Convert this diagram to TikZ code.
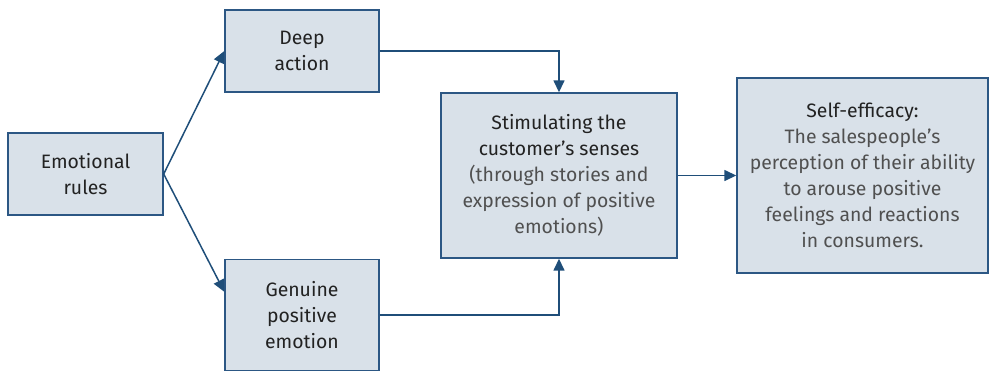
\documentclass[tikz,border=0pt]{standalone}
\usepackage{fontspec}
\setmainfont{Fira Sans}
\usetikzlibrary{arrows.meta,calc}
\definecolor{boxfill}{HTML}{D9E1E9}
\definecolor{boxdraw}{HTML}{2C5784}
\definecolor{arrowc}{HTML}{1F4E79}
\definecolor{maintext}{HTML}{222222}
\definecolor{subtext}{HTML}{505050}
\begin{document}
\begin{tikzpicture}[x=1pt,y=-1pt,
  box/.style={draw=boxdraw,fill=boxfill,line width=1.4pt,inner sep=0pt,align=center,
    text=maintext,font=\fontsize{19.4}{26}\selectfont},
  conn/.style={draw=arrowc,line width=1.5pt,-{Triangle[length=12pt,width=11pt]}}]
\useasboundingbox (0,0) rectangle (989,373);
\node[box,minimum width=155pt,minimum height=82pt] (rules) at (85.5,174) {Emotional\\rules};
\node[box,minimum width=154pt,minimum height=82pt] (deep) at (302,51) {Deep\\action};
\node[box,minimum width=154pt,minimum height=111pt] (genuine) at (302,315) {Genuine\\positive\\emotion};
\node[box,minimum width=236pt,minimum height=165pt] (stim) at (559,175.5) {Stimulating the\\customer’s senses\\\color{subtext}(through stories and\\\color{subtext}expression of positive\\\color{subtext}emotions)};
\node[box,minimum width=251pt,minimum height=195pt] (self) at (862.5,175.5) {Self-efficacy:\\\color{subtext}The salespeople’s\\\color{subtext}perception of their ability\\\color{subtext}to arouse positive\\\color{subtext}feelings and reactions\\\color{subtext}in consumers.};
\coordinate (gin) at ($(genuine.north west)+(0,33)$);
\draw[conn] (rules.east) -- (deep.west);
\draw[conn] (rules.east) -- (gin);
\draw[conn] (deep.east) -| (stim.north);
\draw[conn] (genuine.east) -| (stim.south);
\draw[conn] (stim.east) -- (self.west);
\end{tikzpicture}
\end{document}
